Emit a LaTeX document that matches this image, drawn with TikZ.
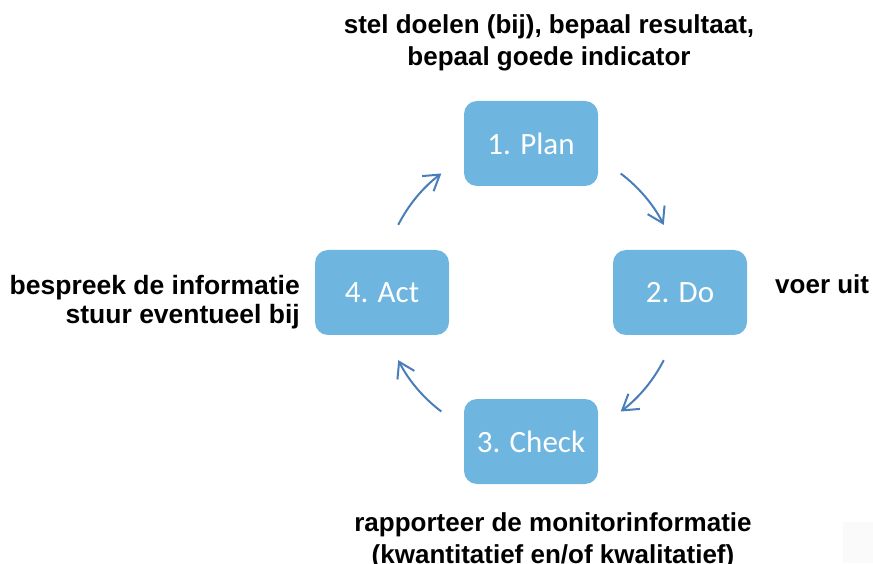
\documentclass[tikz,border=0pt]{standalone}
\usepackage{fontspec}
\setmainfont{Liberation Sans}
\newfontfamily\boxfont{Carlito}
\usetikzlibrary{arrows.meta}
\definecolor{boxblue}{HTML}{6EB5E0}
\definecolor{arrowblue}{HTML}{4A7EBB}
\definecolor{faint}{HTML}{FAFAFA}
\begin{document}
\begin{tikzpicture}[x=1pt,y=1pt,
  stepbox/.style={draw=none, fill=boxblue, rounded corners=13pt, minimum width=134pt, minimum height=85pt, inner sep=0pt, text=white, font=\boxfont\fontsize{31}{37}\selectfont},
  lbl/.style={font=\bfseries\fontsize{26}{32}\selectfont, inner sep=0pt},
  arr/.style={draw=arrowblue, line width=2pt, -{Straight Barb[length=15pt,width=19pt]}}]
\useasboundingbox (0,0) rectangle (873,563);
\fill[faint] (843,0) rectangle (873,41);
\node[stepbox] (plan) at (531,419.5) {1. Plan};
\node[stepbox] (do) at (680,270.5) {2. Do};
\node[stepbox] (check) at (531,121.5) {3. Check};
\node[stepbox] (act) at (382,270.5) {4. Act};
\coordinate (c) at (531,270.5);
\draw[arr] ([shift={(53:149pt)}]c) arc[start angle=53,end angle=27,radius=149pt];
\draw[arr] ([shift={(-27:149pt)}]c) arc[start angle=-27,end angle=-53,radius=149pt];
\draw[arr] ([shift={(233:149pt)}]c) arc[start angle=233,end angle=207,radius=149pt];
\draw[arr] ([shift={(153:149pt)}]c) arc[start angle=153,end angle=127,radius=149pt];
\node[lbl, align=center, anchor=base] (tl) at (549,497.7) {stel doelen (bij), bepaal resultaat,\\bepaal goede indicator};
\node[lbl, align=right, anchor=base east, font=\bfseries\fontsize{26.5}{29}\selectfont] (ll) at (300,239.5) {bespreek de informatie\\stuur eventueel bij};
\node[lbl, anchor=base west] (rl) at (775,269.7) {voer uit};
\node[lbl, align=center, anchor=base] (bl) at (553,0) {rapporteer de monitorinformatie\\(kwantitatief en/of kwalitatief)};
\end{tikzpicture}
\end{document}
